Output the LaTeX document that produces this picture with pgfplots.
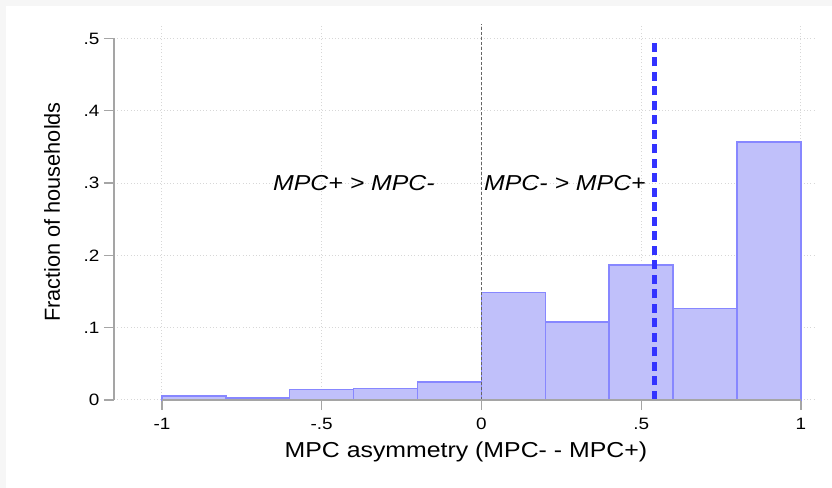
\documentclass[border=0pt]{standalone}
\usepackage{fontspec}
\setmainfont{Liberation Sans}[FakeStretch=1.15]
\newfontfamily\plainfont{Liberation Sans}
\usepackage{pgfplots}
\pgfplotsset{compat=1.18}
\definecolor{barfill}{RGB}{192,192,250}
\definecolor{baredge}{RGB}{135,135,255}
\definecolor{axgray}{RGB}{165,165,165}
\definecolor{gridgray}{RGB}{215,215,215}
\definecolor{meanblue}{RGB}{51,51,255}
\definecolor{bggray}{RGB}{246,246,246}
\begin{document}
\begin{tikzpicture}[x=1bp,y=1bp]
\fill[bggray] (0,0) rectangle (832,488);
\fill[white] (6,0) rectangle (832,482);
\begin{axis}[
  at={(114bp,88bp)}, anchor=south west,
  scale only axis, width=701bp, height=376bp,
  xmin=-1.15, xmax=1.044, ymin=0, ymax=0.52,
  axis x line*=bottom, axis y line*=left,
  axis line style={draw=none},
  xtick={-1,-0.5,0,0.5,1}, xticklabels={-1,-.5,0,.5,1},
  ytick={0,0.1,0.2,0.3,0.4,0.5}, yticklabels={0,.1,.2,.3,.4,.5},
  tick align=outside, major tick length=10bp,
  every tick/.style={axgray, line width=1.2bp},
  grid=major,
  major grid style={gridgray, line width=1bp, dash pattern=on 1bp off 2.3bp},
  ticklabel style={font=\fontsize{16.5}{18}\selectfont},
  xticklabel style={yshift=-5bp},
  yticklabel style={xshift=-1bp},
  /pgf/number format/assume math mode=true,
  xlabel={MPC asymmetry (MPC- - MPC+)},
  ylabel={Fraction of households},
  every axis x label/.style={at={(axis description cs:0.502,0)}, anchor=base, yshift=-58bp, font=\fontsize{21.7}{24}\selectfont},
  every axis y label/.style={at={(axis description cs:-0.0884,0.5)}, rotate=90, anchor=center, font=\plainfont\fontsize{21.8}{24}\selectfont},
  clip=false,
]
\addplot[ybar interval, fill=barfill, draw=baredge, line width=1.5bp] coordinates {
  (-1,0.0055) (-0.8,0.003) (-0.6,0.0143) (-0.4,0.016) (-0.2,0.0249)
  (0,0.1486) (0.2,0.108) (0.4,0.1865) (0.6,0.1265) (0.8,0.357) (1,0.357)};
\addplot[black!60, line width=1.1bp, dash pattern=on 3bp off 2bp] coordinates {(0,0) (0,0.52)};
\addplot[meanblue, line width=5.5bp, dash pattern=on 9bp off 5.5bp] coordinates {(0.541,0) (0.541,0.5)};
\draw[axgray, line width=1.5bp] (axis cs:-1,0) -- (axis cs:1,0);
\draw[axgray, line width=1.5bp] (axis cs:-1.15,0) -- (axis cs:-1.15,0.5);
\node[anchor=west, inner sep=0pt, font=\fontsize{21.7}{24}\selectfont\itshape] at (axis cs:-0.6526,0.3) {MPC+ > MPC-};
\node[anchor=west, inner sep=0pt, font=\fontsize{21.7}{24}\selectfont\itshape] at (axis cs:0.0078,0.3) {MPC- > MPC+};
\end{axis}
\end{tikzpicture}
\end{document}
